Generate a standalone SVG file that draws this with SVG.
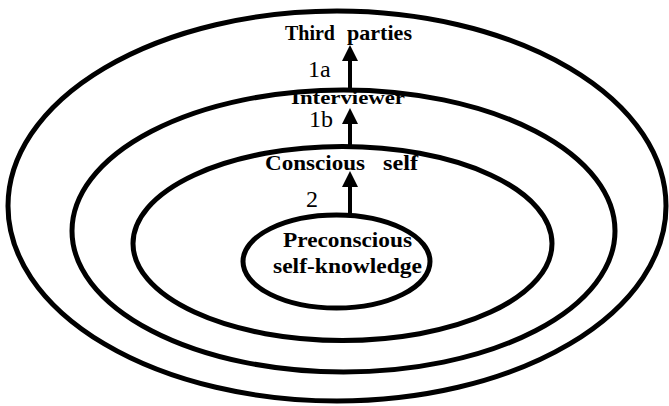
<svg xmlns="http://www.w3.org/2000/svg" width="669" height="406" viewBox="0 0 669 406">
<style>
.ring{fill:none;stroke:#000;stroke-width:5}
.lbl{font-family:"Liberation Serif","Times New Roman",serif;font-weight:bold;fill:#000}
.num{font-family:"Liberation Serif","Times New Roman",serif;font-size:24px;fill:#000}
.arr{stroke:#000;stroke-width:4;fill:none}
</style>
<defs>
<marker id="ah" viewBox="0 0 16 16" refX="0" refY="8" markerWidth="16" markerHeight="16" markerUnits="userSpaceOnUse" orient="auto">
<path d="M0,0 L16,8 L0,16 z" fill="#000"/>
</marker>
</defs>
<rect width="669" height="406" fill="#fff"/>
<g id="third-parties">
<ellipse class="ring" cx="337" cy="206" rx="329" ry="195"/>
<text class="lbl" font-size="21"><tspan x="285" y="40" textLength="50" lengthAdjust="spacingAndGlyphs">Third</tspan><tspan x="347" y="40" textLength="65" lengthAdjust="spacingAndGlyphs">parties</tspan></text>
</g>
<g id="interviewer">
<ellipse class="ring" cx="343.5" cy="231" rx="271.5" ry="141"/>
<text class="lbl" x="291" y="104" font-size="18" textLength="114" lengthAdjust="spacingAndGlyphs">Interviewer</text>
</g>
<g id="conscious-self">
<ellipse class="ring" cx="342.5" cy="243.5" rx="209.5" ry="97"/>
<text class="lbl" font-size="20"><tspan x="265" y="170" textLength="100" lengthAdjust="spacingAndGlyphs">Conscious</tspan><tspan x="383" y="170" textLength="35" lengthAdjust="spacingAndGlyphs">self</tspan></text>
</g>
<g id="preconscious">
<ellipse class="ring" cx="336.5" cy="261.5" rx="93.5" ry="46.5"/>
<text class="lbl" x="283" y="247" font-size="21" textLength="129" lengthAdjust="spacingAndGlyphs">Preconscious</text>
<text class="lbl" x="273" y="273" font-size="21" textLength="149" lengthAdjust="spacingAndGlyphs">self-knowledge</text>
</g>
<g id="connectors">
<line class="arr" x1="350" y1="90" x2="350" y2="61" marker-end="url(#ah)"/>
<line class="arr" x1="350" y1="147" x2="350" y2="124" marker-end="url(#ah)"/>
<line class="arr" x1="350" y1="214" x2="350" y2="187" marker-end="url(#ah)"/>
<text class="num" x="308" y="77">1a</text>
<text class="num" x="309" y="127">1b</text>
<text class="num" x="306" y="207">2</text>
</g>
</svg>
